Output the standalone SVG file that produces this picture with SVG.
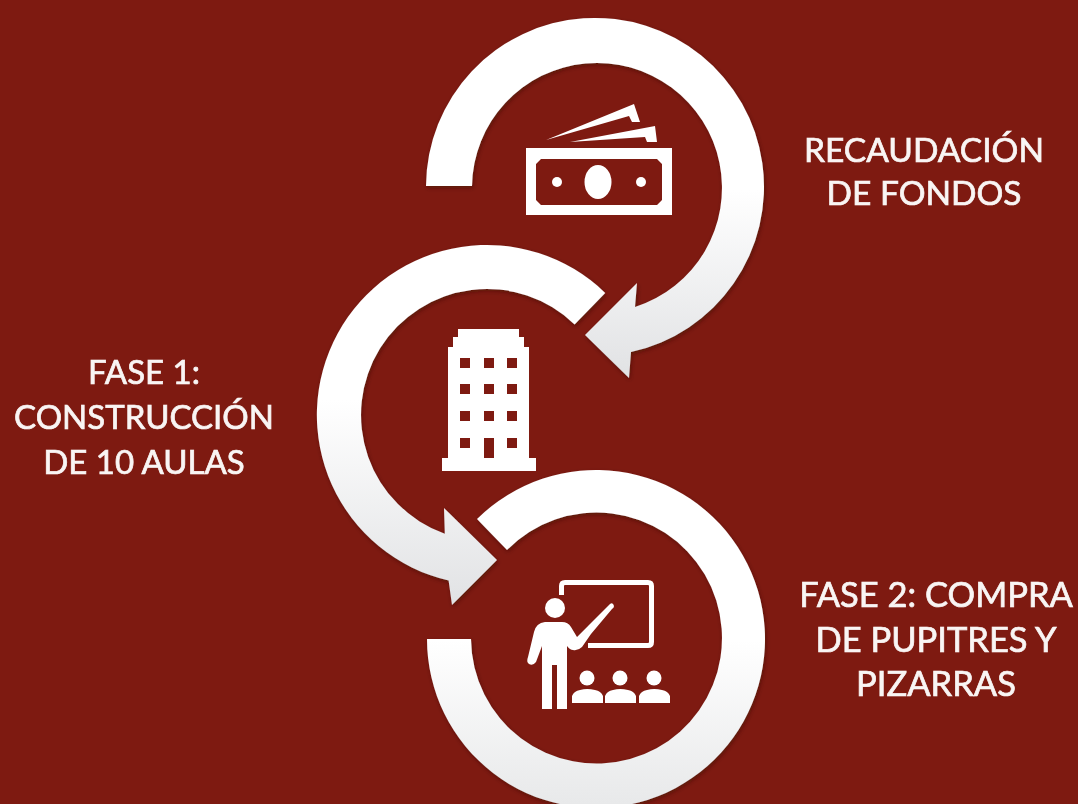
<svg xmlns="http://www.w3.org/2000/svg" width="1078" height="804" viewBox="0 0 1078 804">
<style>
.lbl{font-family:"Lato","Open Sans","Liberation Sans",sans-serif;fill:#f9f5f4;stroke:#f9f5f4;stroke-width:.7;text-anchor:middle;font-weight:400;filter:url(#soft)}
.s1{font-size:33.5px}
.s2{font-size:33px}
.s3{font-size:34.5px}
.icon{fill:#fff}
</style>
<defs>
<linearGradient id="g1" gradientUnits="userSpaceOnUse" x1="0" y1="190" x2="0" y2="370"><stop offset="0" stop-color="#fff"/><stop offset="1" stop-color="#e2e3e5"/></linearGradient>
<linearGradient id="g2" gradientUnits="userSpaceOnUse" x1="0" y1="400" x2="0" y2="600"><stop offset="0" stop-color="#fff"/><stop offset="1" stop-color="#e2e3e5"/></linearGradient>
<linearGradient id="g3" gradientUnits="userSpaceOnUse" x1="0" y1="640" x2="0" y2="804"><stop offset="0" stop-color="#fff"/><stop offset="1" stop-color="#e8e9ea"/></linearGradient>
<filter id="sh" x="-10%" y="-10%" width="120%" height="120%"><feDropShadow dx="1" dy="2" stdDeviation="2" flood-color="#3a0a06" flood-opacity=".55"/></filter>
<filter id="soft" x="-5%" y="-10%" width="110%" height="120%"><feGaussianBlur stdDeviation=".5"/></filter>
</defs>
<rect width="1078" height="804" fill="#7e1a11"/>
<g id="connectors" filter="url(#sh)">
<path id="arrow-1" fill="url(#g1)" d="M426,186A169,169 0 1 1 631,352L629,378L585,335L637,283L635,307A125,125 0 1 0 472,186Z"/>
<path id="arrow-2" fill="url(#g2)" d="M605.2,292.9A170,170 0 1 0 448.6,580.6L452,605L497,560L444,508L444.8,533.7A126,126 0 1 1 574.6,324.4Z"/>
<path id="arrow-3" fill="url(#g3)" d="M477,519A169,169 0 1 1 427,639L471,639A125.5,125.5 0 1 0 507,550Z"/>
</g>
<g id="node-fondos">
<path class="icon" fill-rule="evenodd" d="M526,148H672V215H526ZM541,159L536,164V200L541,205H657L662,200V164L657,159Z"/>
<ellipse class="icon" cx="598" cy="182" rx="13.5" ry="17"/>
<circle class="icon" cx="557" cy="182" r="5"/>
<circle class="icon" cx="641" cy="182" r="5"/>
<path class="icon" d="M546,140L634,104L640,122L632,122L629,116Z"/>
<path class="icon" d="M570,142L655,126L657,142L647,142L645,137Z"/>
<text class="lbl s1" x="924" y="162">RECAUDACIÓN</text>
<text class="lbl s1" x="924" y="205">DE FONDOS</text>
</g>
<g id="node-aulas">
<path class="icon" fill-rule="evenodd" d="M442,471V458H448V347H453V337H458V329H519V337H524V347H529V458H536V471ZM460,358V368H470V358ZM484,358V368H494V358ZM507,358V368H517V358ZM460,384V394H470V384ZM484,384V394H494V384ZM507,384V394H517V384ZM460,411V421H470V411ZM484,411V421H494V411ZM507,411V421H517V411ZM460,438V448H470V438ZM484,438V458H494V438ZM507,438V448H517V438Z"/>
<text class="lbl s2" x="144" y="383.5">FASE 1:</text>
<text class="lbl s2" x="144" y="428.5">CONSTRUCCIÓN</text>
<text class="lbl s2" x="144" y="473.5">DE 10 AULAS</text>
</g>
<g id="node-pupitres">
<path fill="none" stroke="#fff" stroke-width="5" stroke-linejoin="round" d="M561.5,595V586Q561.5,582.5 565,582.5H648Q651.5,582.5 651.5,586V642Q651.5,645.5 648,645.5H588"/>
<circle class="icon" cx="555" cy="608" r="10"/>
<path class="icon" d="M545,622H562Q568,622 571,627L577,637L589,625L610,604Q613,602 614,606Q614,608 612,609L591,634L582,647Q578,651 573,650Q570,650 567,646V709H557V665H552V709H542V646L536,662Q533,666 529,664Q526,662 528,657L534,632Q536,623 545,622Z"/>
<circle class="icon" cx="587" cy="678" r="7.5"/>
<circle class="icon" cx="620" cy="678" r="7.5"/>
<circle class="icon" cx="654" cy="678" r="7.5"/>
<path class="icon" d="M572,703V696Q574,691 580,690Q587,688 595,690Q601,691 603,696V703Z"/>
<path class="icon" d="M605,703V696Q607,691 613,690Q620,688 628,690Q634,691 636,696V703Z"/>
<path class="icon" d="M639,703V696Q641,691 647,690Q654,688 662,690Q668,691 670,696V703Z"/>
<text class="lbl s3" x="936" y="607">FASE 2: COMPRA</text>
<text class="lbl s3" x="936" y="652">DE PUPITRES Y</text>
<text class="lbl s3" x="936" y="696">PIZARRAS</text>
</g>
</svg>
